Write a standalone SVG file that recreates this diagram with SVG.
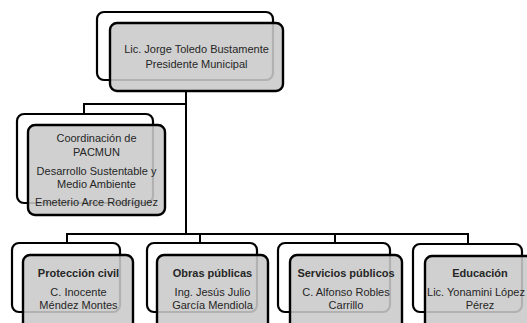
<svg xmlns="http://www.w3.org/2000/svg" width="527" height="323" viewBox="0 0 527 323">
<style>
.back{fill:#ffffff;stroke:#000;stroke-width:2.2}
.front{fill:#c9c9c9;fill-opacity:0.88;stroke:#000;stroke-width:2.4}
.conn{fill:none;stroke:#000;stroke-width:2}
text{font-family:"Liberation Sans",Arial,sans-serif;font-size:11px;fill:#262626;text-anchor:middle}
.b{font-weight:bold}
</style>
<rect width="527" height="323" fill="#fff"/>
<g id="connectors">
<path class="conn" d="M186,91 V234 M186,104 H84 V114 M67,243 V234 H468 V244 M200,234 V243 M335,234 V243"/>
</g>
<g id="president">
<rect class="back" x="97" y="12" width="176" height="68" rx="7"/>
<rect class="front" x="110" y="23" width="173" height="68" rx="7"/>
<text x="196.5" y="53">Lic. Jorge Toledo Bustamente</text>
<text x="196.5" y="68">Presidente Municipal</text>
</g>
<g id="coordinacion">
<rect class="back" x="17" y="114" width="136" height="89" rx="7"/>
<rect class="front" x="28" y="125" width="137" height="90" rx="7"/>
<text x="96.5" y="142">Coordinación de</text>
<text x="96.5" y="156">PACMUN</text>
<text x="96.5" y="175">Desarrollo Sustentable y</text>
<text x="96.5" y="188">Medio Ambiente</text>
<text x="96.5" y="206">Emeterio Arce Rodríguez</text>
</g>
<g id="proteccion">
<rect class="back" x="12" y="243" width="108" height="69" rx="7"/>
<rect class="front" x="23" y="255" width="110" height="75" rx="7"/>
<text class="b" x="78.5" y="277">Protección civil</text>
<text x="78.5" y="296">C. Inocente</text>
<text x="78.5" y="309">Méndez Montes</text>
</g>
<g id="obras">
<rect class="back" x="147" y="243" width="110" height="69" rx="7"/>
<rect class="front" x="157" y="255" width="111" height="75" rx="7"/>
<text class="b" x="212.5" y="277">Obras públicas</text>
<text x="212.5" y="296">Ing. Jesús Julio</text>
<text x="212.5" y="309">García Mendiola</text>
</g>
<g id="servicios">
<rect class="back" x="278" y="243" width="112" height="69" rx="7"/>
<rect class="front" x="290" y="255" width="112" height="75" rx="7"/>
<text class="b" x="346" y="277">Servicios públicos</text>
<text x="346" y="296">C. Alfonso Robles</text>
<text x="346" y="309">Carrillo</text>
</g>
<g id="educacion">
<rect class="back" x="413" y="244" width="109" height="68" rx="7"/>
<rect class="front" x="425" y="256" width="112" height="74" rx="7"/>
<text class="b" x="480" y="277">Educación</text>
<text x="476" y="296">Lic. Yonamini López</text>
<text x="480" y="309">Pérez</text>
</g>
</svg>
